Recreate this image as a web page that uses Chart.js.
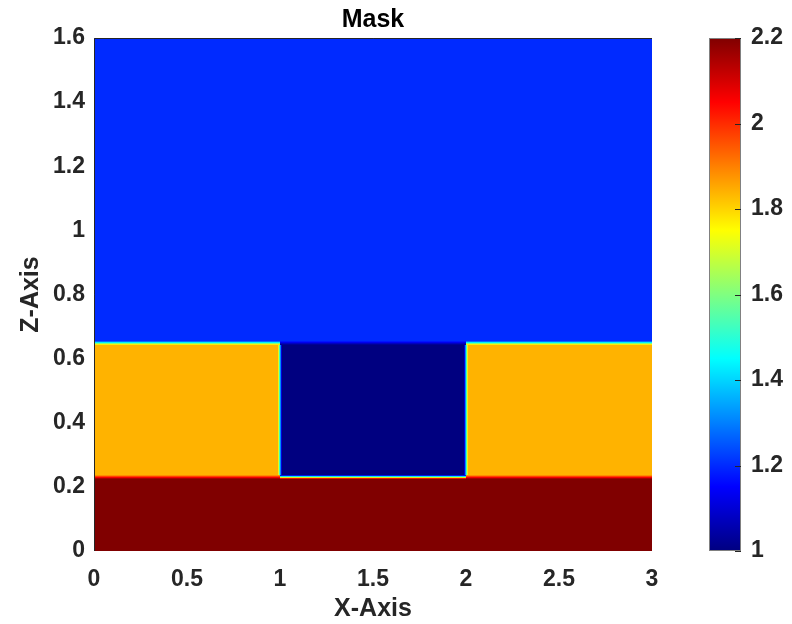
<!DOCTYPE html>
<html lang="en">
<head>
<meta charset="UTF-8">
<title>Mask</title>
<script src="https://cdn.jsdelivr.net/npm/chart.js@4.4.0/dist/chart.umd.min.js"></script>
<style>
  html, body { margin: 0; padding: 0; background: #fff; }
  canvas { display: block; }
</style>
</head>
<body>
<canvas id="maskChart" width="792" height="624"></canvas>
<script>
// cell edges of the mask, in axis units
const xEdges = [0, 1, 2, 3];
const zEdges = [0, 0.23, 0.65, 1.6];
// mask value of each cell, rows from bottom (z = 0) to top
const maskRows = [
  [2.2, 2.2, 2.2],
  [1.84, 1.0, 1.84],
  [1.2, 1.2, 1.2]
];
const xTicks = [0, 0.5, 1, 1.5, 2, 2.5, 3];
const zTicks = [0, 0.2, 0.4, 0.6, 0.8, 1, 1.2, 1.4, 1.6];
const cbTicks = [1, 1.2, 1.4, 1.6, 1.8, 2, 2.2];
const cbMin = 1, cbMax = 2.2;

const FONT = 'Liberation Sans, Arial, Helvetica, sans-serif';
const INK = '#262626';

// matlab jet colormap
function jet(v) {
  const t = Math.min(1, Math.max(0, (v - cbMin) / (cbMax - cbMin)));
  const c = k => Math.round(255 * Math.min(1, Math.max(0, 1.5 - Math.abs(4 * t - k))));
  return 'rgb(' + c(3) + ',' + c(2) + ',' + c(1) + ')';
}

function blend(ctx, p0, p1, a, b, horizontal) {
  const g = horizontal ? ctx.createLinearGradient(p0, 0, p1, 0) : ctx.createLinearGradient(0, p0, 0, p1);
  const n = 12;
  for (let k = 0; k <= n; k++) g.addColorStop(k / n, jet(a + (b - a) * k / n));
  return g;
}

const fmt = v => String(+(+v).toFixed(2));
const setTicks = arr => scale => { scale.ticks = arr.map(v => ({ value: v })); };

const maskPlugin = {
  id: 'maskPlugin',
  beforeDatasetsDraw(chart) {
    const { ctx, scales: { x, y } } = chart;
    const px = v => Math.round(x.getPixelForValue(v));
    const py = v => Math.round(y.getPixelForValue(v));
    ctx.save();
    // cells
    for (let r = 0; r < maskRows.length; r++) {
      for (let c = 0; c < maskRows[r].length; c++) {
        const x0 = px(xEdges[c]), x1 = px(xEdges[c + 1]);
        const y0 = py(zEdges[r + 1]), y1 = py(zEdges[r]);
        ctx.fillStyle = jet(maskRows[r][c]);
        ctx.fillRect(x0, y0, x1 - x0, y1 - y0);
      }
    }
    // soft edges between cells (the field is interpolated)
    const h = 2;
    for (let r = 0; r < maskRows.length - 1; r++) {
      for (let c = 0; c < maskRows[r].length; c++) {
        const a = maskRows[r][c], b = maskRows[r + 1][c];
        if (a === b) continue;
        const yb = py(zEdges[r + 1]);
        const x0 = px(xEdges[c]), x1 = px(xEdges[c + 1]);
        ctx.fillStyle = blend(ctx, yb + h, yb - h, a, b, false);
        ctx.fillRect(x0, yb - h, x1 - x0, 2 * h);
      }
    }
    for (let r = 0; r < maskRows.length; r++) {
      for (let c = 0; c < maskRows[r].length - 1; c++) {
        const a = maskRows[r][c], b = maskRows[r][c + 1];
        if (a === b) continue;
        const xb = px(xEdges[c + 1]);
        const y0 = py(zEdges[r + 1]), y1 = py(zEdges[r]);
        ctx.fillStyle = blend(ctx, xb - h, xb + h, a, b, true);
        ctx.fillRect(xb - h, y0 + h, 2 * h, y1 - y0 - 2 * h);
      }
    }
    // top and left box lines
    const area = chart.chartArea;
    ctx.strokeStyle = INK;
    ctx.lineWidth = 1;
    ctx.beginPath();
    ctx.moveTo(area.left + 0.5, area.bottom);
    ctx.lineTo(area.left + 0.5, area.top + 0.5);
    ctx.lineTo(area.right, area.top + 0.5);
    ctx.stroke();
    ctx.restore();
  },
  afterDraw(chart) {
    const { ctx, scales: { cb } } = chart;
    const top = Math.round(cb.getPixelForValue(cbMax));
    const bottom = Math.round(cb.getPixelForValue(cbMin));
    const left = Math.round(chart.chartArea.right) + 57, w = 32;
    ctx.save();
    const g = ctx.createLinearGradient(0, bottom, 0, top);
    const n = 48;
    for (let k = 0; k <= n; k++) g.addColorStop(k / n, jet(cbMin + (cbMax - cbMin) * k / n));
    ctx.fillStyle = g;
    ctx.fillRect(left, top, w, bottom - top);
    ctx.strokeStyle = '#808080';
    ctx.lineWidth = 1;
    ctx.strokeRect(left + 0.5, top + 0.5, w - 1, bottom - top - 1);
    ctx.strokeStyle = INK;
    ctx.beginPath();
    cbTicks.forEach(v => {
      const yy = Math.round(cb.getPixelForValue(v)) + 0.5;
      ctx.moveTo(left + w - 6, yy);
      ctx.lineTo(left + w, yy);
    });
    ctx.stroke();
    ctx.restore();
  }
};

const tickFont = { family: FONT, size: 23, weight: 'bold' };
const labelFont = { family: FONT, size: 25, weight: 'bold' };

new Chart(document.getElementById('maskChart'), {
  type: 'scatter',
  data: { datasets: [{ data: [] }] },
  options: {
    responsive: false,
    animation: false,
    events: [],
    layout: { padding: 0 },
    plugins: {
      legend: { display: false },
      tooltip: { enabled: false },
      title: {
        display: true,
        text: 'Mask',
        fullSize: false,
        color: '#000',
        font: labelFont,
        padding: { top: 5, bottom: 3 }
      }
    },
    scales: {
      x: {
        type: 'linear', min: 0, max: 3,
        afterFit: s => { s.height = 73; },
        afterBuildTicks: setTicks(xTicks),
        grid: { display: false, drawTicks: false },
        border: { display: false },
        ticks: { padding: 15, font: tickFont, color: INK, maxRotation: 0, autoSkip: false, callback: fmt },
        title: { display: true, text: 'X-Axis', font: labelFont, color: INK, padding: { top: 0, bottom: 0 } }
      },
      y: {
        type: 'linear', min: 0, max: 1.6,
        afterFit: s => { s.width = 94; s.paddingTop = 0; s.paddingBottom = 0; },
        afterBuildTicks: setTicks(zTicks),
        grid: { display: false, drawTicks: false },
        border: { display: false },
        ticks: { padding: 9, font: tickFont, color: INK, autoSkip: false, callback: fmt },
        title: { display: true, text: 'Z-Axis', font: labelFont, color: INK, padding: { top: 16, bottom: 0 } }
      },
      cb: {
        type: 'linear', position: 'right', min: cbMin, max: cbMax,
        afterFit: s => { s.width = 140; s.paddingTop = 0; s.paddingBottom = 0; },
        afterBuildTicks: setTicks(cbTicks),
        grid: { display: false, drawTicks: false },
        border: { display: false },
        ticks: { padding: 99, font: tickFont, color: INK, autoSkip: false, callback: fmt }
      }
    }
  },
  plugins: [maskPlugin]
});
</script>
</body>
</html>
